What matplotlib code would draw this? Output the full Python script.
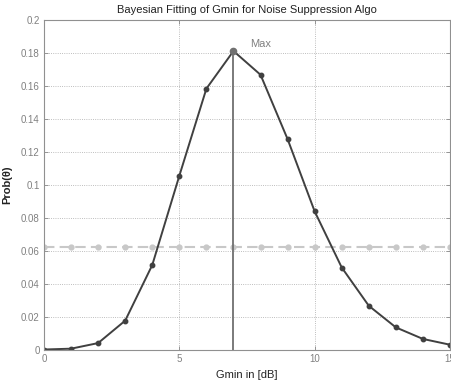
import matplotlib.pyplot as plt
import matplotlib as mpl

# data
gmin = list(range(16))
prob = [0.0003, 0.0008, 0.0042, 0.0178, 0.0515, 0.1056, 0.1584, 0.1812,
        0.1668, 0.1278, 0.0840, 0.0500, 0.0268, 0.0137, 0.0067, 0.0032]
prior = [1 / 16] * 16
x_max = 7
p_max = 0.1812

mpl.rc('font', family=['Liberation Sans', 'DejaVu Sans'], size=7)
mpl.rc('xtick', direction='in', color='#888888', labelcolor='#808080')
mpl.rc('ytick', direction='in', color='#888888', labelcolor='#808080')

fig = plt.figure(figsize=(4.51, 3.80), dpi=100)
ax = fig.add_axes([44 / 451, 30 / 380, 406 / 451, 330 / 380])

ax.plot(gmin, prior, color='#c8c8c8', linestyle='--', linewidth=1.5,
        marker='o', markersize=3.5, dashes=(5, 2.5))
ax.plot([x_max, x_max], [0, p_max], color='#707070', linewidth=1.3)
ax.plot(gmin, prob, color='#404040', linewidth=1.4, marker='o', markersize=3.2)
ax.plot([x_max], [p_max], 'o', color='#707070', markersize=4.5)
ax.text(x_max + 0.6, p_max + 0.0015, 'Max', color='#808080', fontsize=8,
        va='bottom', ha='left')

ax.set_xlim(0, 15)
ax.set_ylim(0, 0.2)
ax.set_xticks([0, 5, 10, 15])
ax.set_yticks([0, 0.02, 0.04, 0.06, 0.08, 0.1, 0.12, 0.14, 0.16, 0.18, 0.2])
ax.set_yticklabels(['0', '0.02', '0.04', '0.06', '0.08', '0.1', '0.12',
                    '0.14', '0.16', '0.18', '0.2'])
ax.tick_params(length=3, width=0.6, pad=3, top=True, right=True)
ax.grid(True, linestyle=':', color='#a8a8a8', linewidth=0.6)
for s in ax.spines.values():
    s.set_color('#909090')
    s.set_linewidth(0.8)

ax.set_title('Bayesian Fitting of Gmin for Noise Suppression Algo',
             fontsize=8, color='#222222', pad=5)
ax.set_xlabel('Gmin in [dB]', fontsize=8, color='#222222', labelpad=4)
ax.set_ylabel('Prob(θ)', fontsize=8, color='#222222', fontweight='bold',
              labelpad=6)

fig.savefig('out.png', dpi=100)
plt.close('all')
